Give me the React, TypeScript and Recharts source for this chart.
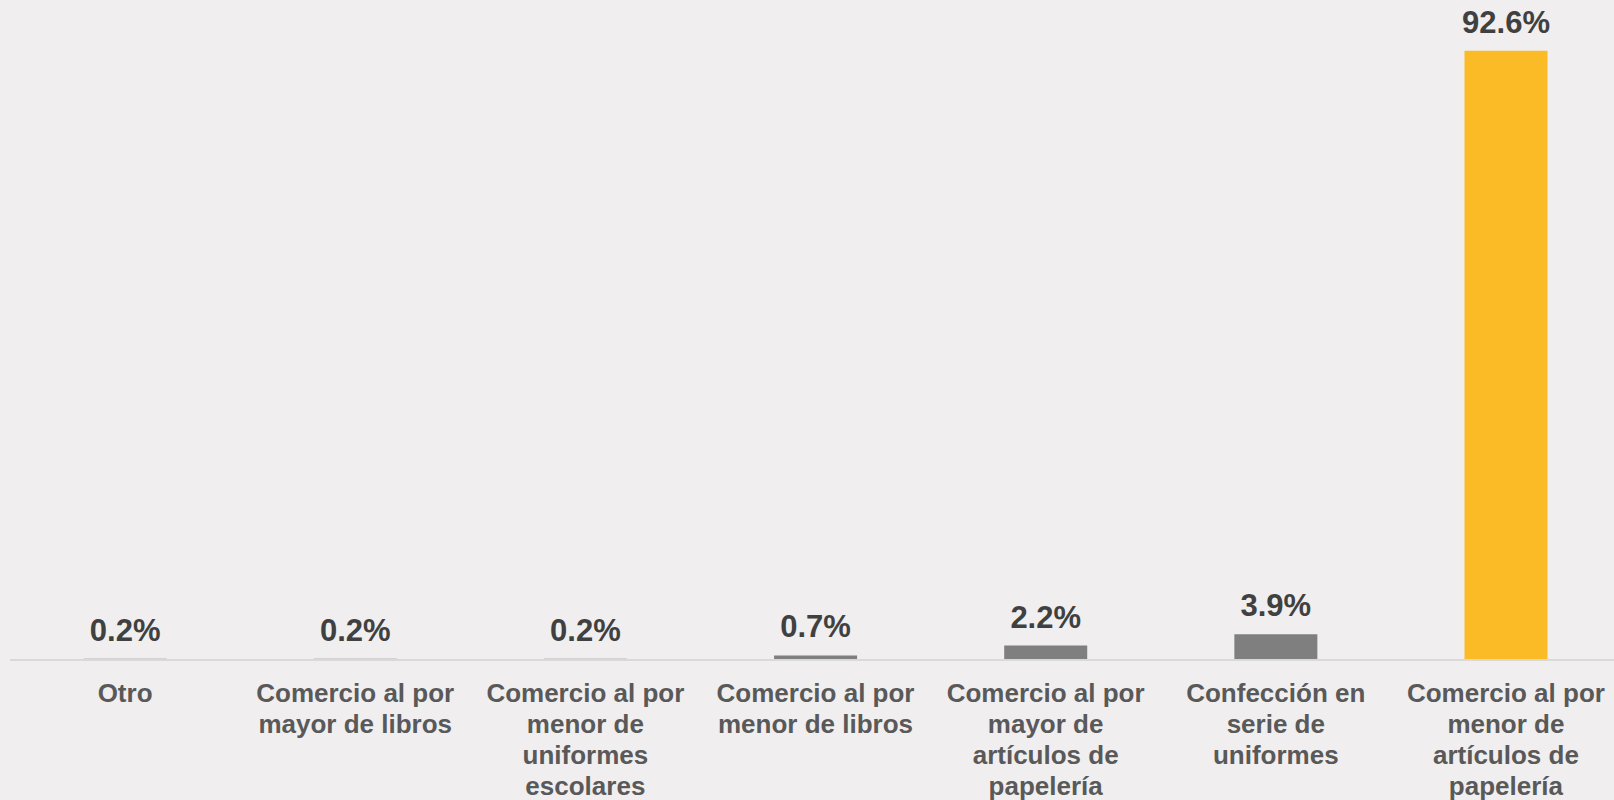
import { Bar, BarChart, Cell, LabelList, XAxis, YAxis } from "recharts";

const categories = [
  "Otro",
  "Comercio al por mayor de libros",
  "Comercio al por menor de uniformes escolares",
  "Comercio al por menor de libros",
  "Comercio al por mayor de artículos de papelería",
  "Confección en serie de uniformes",
  "Comercio al por menor de artículos de papelería"
];
const shares = [0.2, 0.2, 0.2, 0.7, 2.2, 3.9, 92.6];
const highlighted = [false, false, false, false, false, false, true];

const data = categories.map((name, i) => ({ name, value: shares[i] }));

const font = "'Liberation Sans', Arial, sans-serif";
const tickFont = `bold 26px ${font}`;

let ctx: CanvasRenderingContext2D | null = null;
function measure(text: string): number {
  if (!ctx) ctx = document.createElement("canvas").getContext("2d");
  if (!ctx) return text.length * 14;
  ctx.font = tickFont;
  return ctx.measureText(text).width;
}

// greedy word wrap so long category names break like the original
function wrap(text: string, maxWidth: number): string[] {
  const lines: string[] = [];
  let current = "";
  for (const word of text.split(" ")) {
    const next = current ? `${current} ${word}` : word;
    if (current && measure(next) > maxWidth) {
      lines.push(current);
      current = word;
    } else {
      current = next;
    }
  }
  if (current) lines.push(current);
  return lines;
}

function CategoryTick({ x, y, payload }: any) {
  const lines = wrap(String(payload.value), 215);
  return (
    <text
      x={x}
      y={y}
      textAnchor="middle"
      fontSize={26}
      fontWeight="bold"
      fontFamily={font}
      fill="#595959"
    >
      {lines.map((line, i) => (
        <tspan key={i} x={x} dy={i === 0 ? 42 : 31}>
          {line}
        </tspan>
      ))}
    </text>
  );
}

export default function App() {
  return (
    <div
      style={{
        position: "fixed",
        left: 0,
        top: 0,
        width: 1614,
        height: 800,
        overflow: "hidden",
        background: "#f0eeef"
      }}
    >
      <BarChart
        width={1621}
        height={800}
        data={data}
        margin={{ top: 2, right: 0, bottom: 0, left: 10 }}
        barCategoryGap="32%"
      >
        <XAxis
          dataKey="name"
          interval={0}
          height={140}
          tickLine={false}
          tickSize={0}
          tickMargin={0}
          axisLine={{ stroke: "#d9d9d9", strokeWidth: 2 }}
          tick={<CategoryTick />}
        />
        <YAxis hide domain={[0, 100]} />
        <Bar dataKey="value" isAnimationActive={false}>
          {data.map((item, i) => (
            <Cell key={item.name} fill={highlighted[i] ? "#fbbb27" : "#7f7f7f"} />
          ))}
          <LabelList
            dataKey="value"
            position="top"
            offset={18}
            formatter={(v: any) => `${Number(v).toFixed(1)}%`}
            style={{ fontSize: 31, fontWeight: "bold", fontFamily: font, fill: "#404040" }}
          />
        </Bar>
      </BarChart>
    </div>
  );
}
